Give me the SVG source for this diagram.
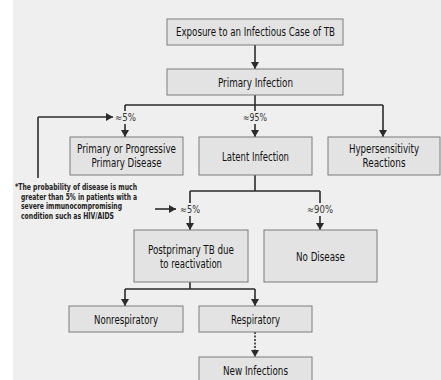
<svg xmlns="http://www.w3.org/2000/svg" width="441" height="380" viewBox="0 0 441 380">
<style>
.bg{fill:#ffffff}
.panel{fill:#efefef}
.box rect{fill:#e3e3e3;stroke:#7d7d7d;stroke-width:1}
.t{font-family:"Liberation Sans Narrow","DejaVu Sans Condensed","Liberation Sans",sans-serif;font-size:12.5px;fill:#111;text-anchor:middle}
.pct{font-family:"Liberation Sans Narrow","DejaVu Sans Condensed","Liberation Sans",sans-serif;font-size:10px;fill:#333;text-anchor:start}
.note{font-family:"Liberation Sans Narrow","DejaVu Sans Condensed","Liberation Sans",sans-serif;font-size:8px;font-weight:bold;fill:#222}
.ln{fill:none;stroke:#2b2b2b;stroke-width:1.6}
.arr{marker-end:url(#ah)}
.dot{stroke-dasharray:2,1.5}
</style>
<defs>
<marker id="ah" markerUnits="userSpaceOnUse" markerWidth="9" markerHeight="9" refX="7" refY="4" orient="auto">
<path d="M0,0 L7,4 L0,8 z" fill="#2b2b2b"/>
</marker>
</defs>
<rect class="bg" x="0" y="0" width="441" height="380"/>
<rect class="panel" x="13" y="0" width="428" height="380"/>

<g id="connectors">
<path class="ln arr" d="M255,45 V69"/>
<path class="ln" d="M255,95 V105 M125,105 H383 M125,105 V111"/>
<path class="ln arr" d="M125,124 V137"/>
<path class="ln" d="M255,105 V111"/>
<path class="ln arr" d="M255,124 V137"/>
<path class="ln arr" d="M383,105 V137"/>
<path class="ln" d="M38,178 V117"/>
<path class="ln arr" d="M38,117 H113"/>
<path class="ln" d="M255,175 V191 M190,191 H320 M190,191 V203 M320,191 V203"/>
<path class="ln arr" d="M190,216 V230"/>
<path class="ln arr" d="M320,216 V230"/>
<path class="ln arr" d="M155,209 H176"/>
<path class="ln" d="M190,282 V289 M125,289 H255"/>
<path class="ln arr" d="M125,289 V306"/>
<path class="ln arr" d="M255,289 V306"/>
<path class="ln arr dot" d="M255,332 V357"/>
</g>

<g id="labels">
<text class="pct" x="115" y="121" textLength="21" lengthAdjust="spacingAndGlyphs">≈5%</text>
<text class="pct" x="243" y="121" textLength="24" lengthAdjust="spacingAndGlyphs">≈95%</text>
<text class="pct" x="180" y="213" textLength="20" lengthAdjust="spacingAndGlyphs">≈5%</text>
<text class="pct" x="307" y="213" textLength="26" lengthAdjust="spacingAndGlyphs">≈90%</text>
</g>

<g id="footnote">
<text class="note" x="15" y="190" textLength="122" lengthAdjust="spacingAndGlyphs">*The probability of disease is much</text>
<text class="note" x="21" y="199.5" textLength="116" lengthAdjust="spacingAndGlyphs">greater than 5% in patients with a</text>
<text class="note" x="21" y="209" textLength="101" lengthAdjust="spacingAndGlyphs">severe immunocompromising</text>
<text class="note" x="21" y="218.5" textLength="93" lengthAdjust="spacingAndGlyphs">condition such as HIV/AIDS</text>
</g>

<g id="exposure" class="box">
<rect x="167" y="19" width="176" height="26"/>
<text class="t" x="255.5" y="36" textLength="159" lengthAdjust="spacingAndGlyphs">Exposure to an Infectious Case of TB</text>
</g>
<g id="primary-infection" class="box">
<rect x="167" y="69" width="176" height="26"/>
<text class="t" x="255.5" y="86.5" textLength="75" lengthAdjust="spacingAndGlyphs">Primary Infection</text>
</g>
<g id="primary-disease" class="box">
<rect x="70" y="137" width="113" height="38"/>
<text class="t" x="126.5" y="153" textLength="99" lengthAdjust="spacingAndGlyphs">Primary or Progressive</text>
<text class="t" x="126.5" y="167" textLength="70" lengthAdjust="spacingAndGlyphs">Primary Disease</text>
</g>
<g id="latent-infection" class="box">
<rect x="199" y="137" width="113" height="38"/>
<text class="t" x="255.5" y="160.5" textLength="67" lengthAdjust="spacingAndGlyphs">Latent Infection</text>
</g>
<g id="hypersensitivity" class="box">
<rect x="328" y="137" width="112" height="38"/>
<text class="t" x="384" y="153" textLength="70" lengthAdjust="spacingAndGlyphs">Hypersensitivity</text>
<text class="t" x="384" y="167" textLength="43" lengthAdjust="spacingAndGlyphs">Reactions</text>
</g>
<g id="postprimary" class="box">
<rect x="134" y="230" width="114" height="52"/>
<text class="t" x="191" y="254" textLength="86" lengthAdjust="spacingAndGlyphs">Postprimary TB due</text>
<text class="t" x="191" y="268" textLength="62" lengthAdjust="spacingAndGlyphs">to reactivation</text>
</g>
<g id="no-disease" class="box">
<rect x="264" y="230" width="113" height="52"/>
<text class="t" x="320.5" y="261" textLength="49" lengthAdjust="spacingAndGlyphs">No Disease</text>
</g>
<g id="nonrespiratory" class="box">
<rect x="69" y="306" width="114" height="26"/>
<text class="t" x="126" y="323.5" textLength="64" lengthAdjust="spacingAndGlyphs">Nonrespiratory</text>
</g>
<g id="respiratory" class="box">
<rect x="199" y="306" width="113" height="26"/>
<text class="t" x="255.5" y="323.5" textLength="49" lengthAdjust="spacingAndGlyphs">Respiratory</text>
</g>
<g id="new-infections" class="box">
<rect x="199" y="357" width="113" height="26"/>
<text class="t" x="255.5" y="375" textLength="65" lengthAdjust="spacingAndGlyphs">New Infections</text>
</g>
</svg>
